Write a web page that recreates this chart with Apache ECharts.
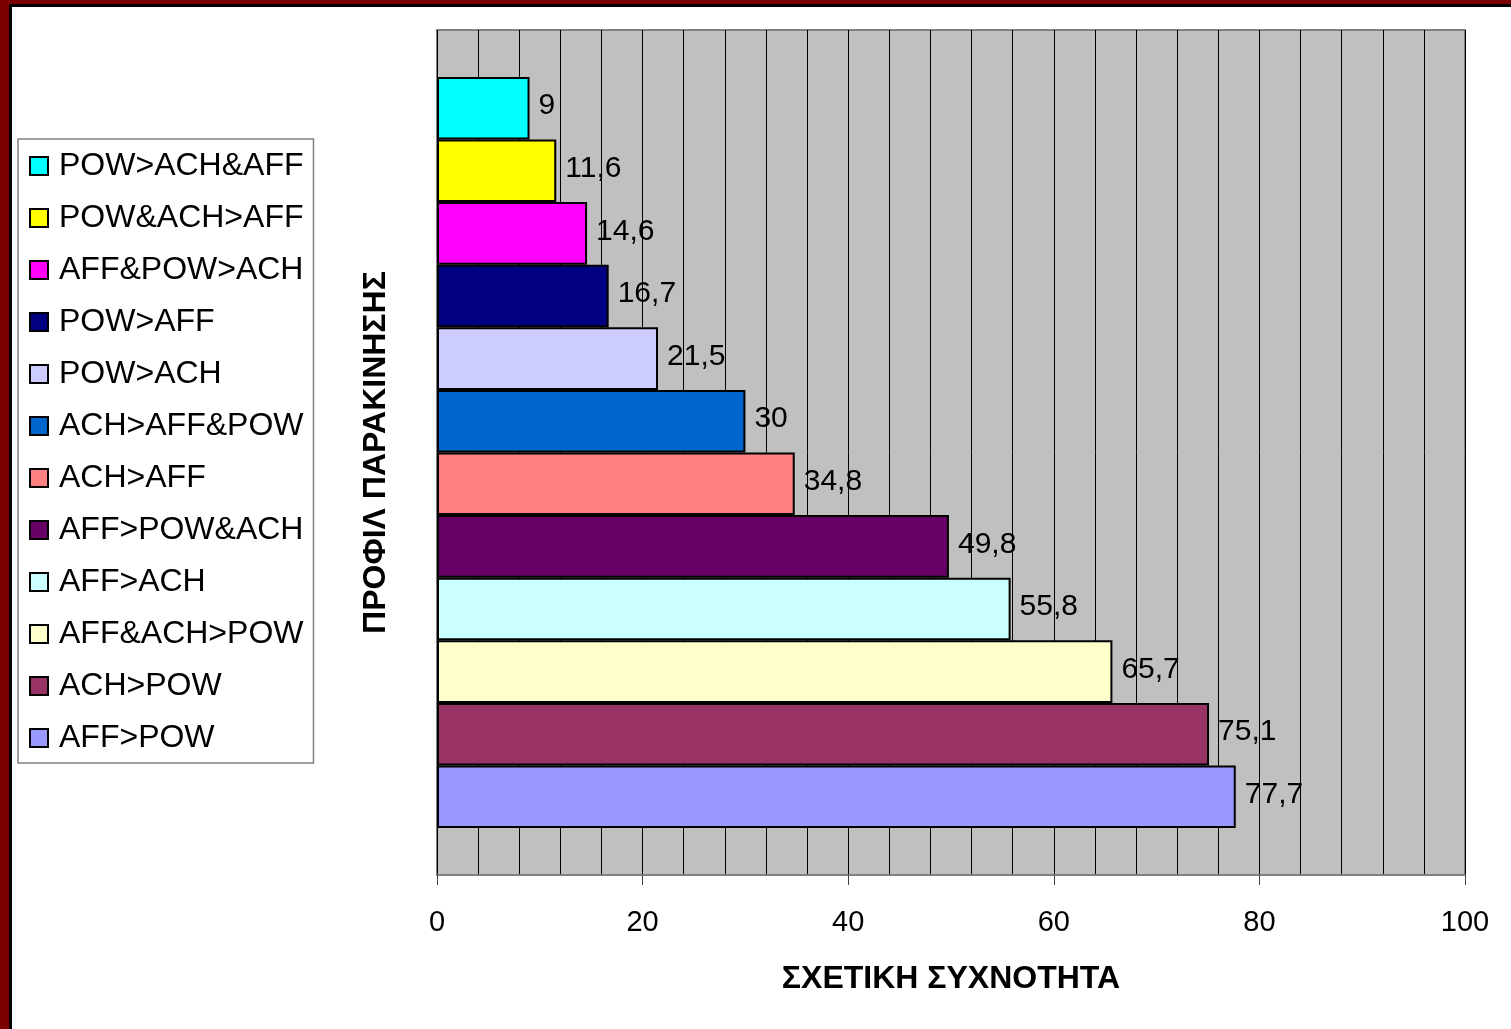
<!DOCTYPE html>
<html>
<head>
<meta charset="utf-8">
<script src="https://cdn.jsdelivr.net/npm/echarts@6/dist/echarts.min.js"></script>
<style>
  html, body { margin: 0; padding: 0; background: #fff; }
  #frame { position: absolute; left: 0; top: 0; width: 1511px; height: 1029px; box-sizing: border-box;
           border-left: 9px solid #7d0000; border-top: 4px solid #7d0000; }
  #inner { position: absolute; left: 0; top: 0; right: 0; bottom: 0; border-left: 3px solid #000; border-top: 3px solid #000; }
  #chart { position: absolute; left: 0; top: 0; width: 1511px; height: 1029px; }
</style>
</head>
<body>
<div id="frame"><div id="inner"></div></div>
<div id="chart"></div>
<script>
const seriesNames = ['POW>ACH&AFF', 'POW&ACH>AFF', 'AFF&POW>ACH', 'POW>AFF', 'POW>ACH', 'ACH>AFF&POW',
                     'ACH>AFF', 'AFF>POW&ACH', 'AFF>ACH', 'AFF&ACH>POW', 'ACH>POW', 'AFF>POW'];
const seriesValues = [9, 11.6, 14.6, 16.7, 21.5, 30, 34.8, 49.8, 55.8, 65.7, 75.1, 77.7];
const seriesColors = ['#00FFFF', '#FFFF00', '#FF00FF', '#000080', '#CCCCFF', '#0066CC',
                      '#FF8080', '#660066', '#CCFFFF', '#FFFFCC', '#993366', '#9999FF'];
const categories = [''];
const xTicks = { min: 0, max: 100, interval: 20 };
const xAxisTitle = 'ΣΧΕΤΙΚΗ ΣΥΧΝΟΤΗΤΑ';
const yAxisTitle = 'ΠΡΟΦΙΛ ΠΑΡΑΚΙΝΗΣΗΣ';

const FONT = 'Arial, "Liberation Sans", sans-serif';
const chart = echarts.init(document.getElementById('chart'), null, { renderer: 'canvas' });

const series = seriesNames.map((name, i) => ({
  name: name,
  type: 'bar',
  data: [seriesValues[i]],
  barGap: '0%',
  barCategoryGap: '11.1%',
  itemStyle: { color: seriesColors[i], borderColor: '#000', borderWidth: 2 },
  label: {
    show: true, position: 'right', distance: 9, offset: [0, -2],
    color: '#000', fontFamily: FONT, fontSize: 30,
    formatter: p => String(p.value).replace('.', ',')
  },
  emphasis: { disabled: true }
}));

chart.setOption({
  animation: false,
  textStyle: { fontFamily: FONT },
  grid: {
    left: 437, top: 30, width: 1028, height: 845,
    show: true, backgroundColor: '#C0C0C0', borderColor: '#808080', borderWidth: 2
  },
  legend: {
    orient: 'vertical', left: 18, top: 139,
    data: seriesNames,
    icon: 'rect', itemWidth: 18, itemHeight: 18, itemGap: 20,
    padding: [11, 10, 9, 11],
    backgroundColor: '#fff', borderColor: '#808080', borderWidth: 1.5,
    textStyle: { color: '#000', fontFamily: FONT, fontSize: 32, lineHeight: 32, padding: [0, 0, 0, 6] },
    selectedMode: false
  },
  xAxis: {
    type: 'value', min: xTicks.min, max: xTicks.max, interval: xTicks.interval,
    name: xAxisTitle, nameLocation: 'middle', nameGap: 88,
    nameTextStyle: { color: '#000', fontFamily: FONT, fontSize: 32, fontWeight: 'bold' },
    axisLine: { show: true, lineStyle: { color: '#808080', width: 2 } },
    axisTick: { show: true, length: 10, lineStyle: { color: '#404040', width: 1 } },
    axisLabel: { color: '#000', fontFamily: FONT, fontSize: 29, margin: 33 },
    splitLine: { show: true, lineStyle: { color: '#000', width: 1 } },
    minorTick: { show: false, splitNumber: 5 },
    minorSplitLine: { show: true, lineStyle: { color: '#000', width: 1 } }
  },
  yAxis: {
    type: 'category', data: categories,
    name: yAxisTitle, nameLocation: 'middle', nameRotate: 90, nameGap: 45,
    nameTextStyle: { color: '#000', fontFamily: FONT, fontSize: 32, fontWeight: 'bold' },
    axisLine: { show: false },
    axisTick: { show: false },
    axisLabel: { show: false },
    splitLine: { show: false }
  },
  series: series
});
</script>
</body>
</html>
